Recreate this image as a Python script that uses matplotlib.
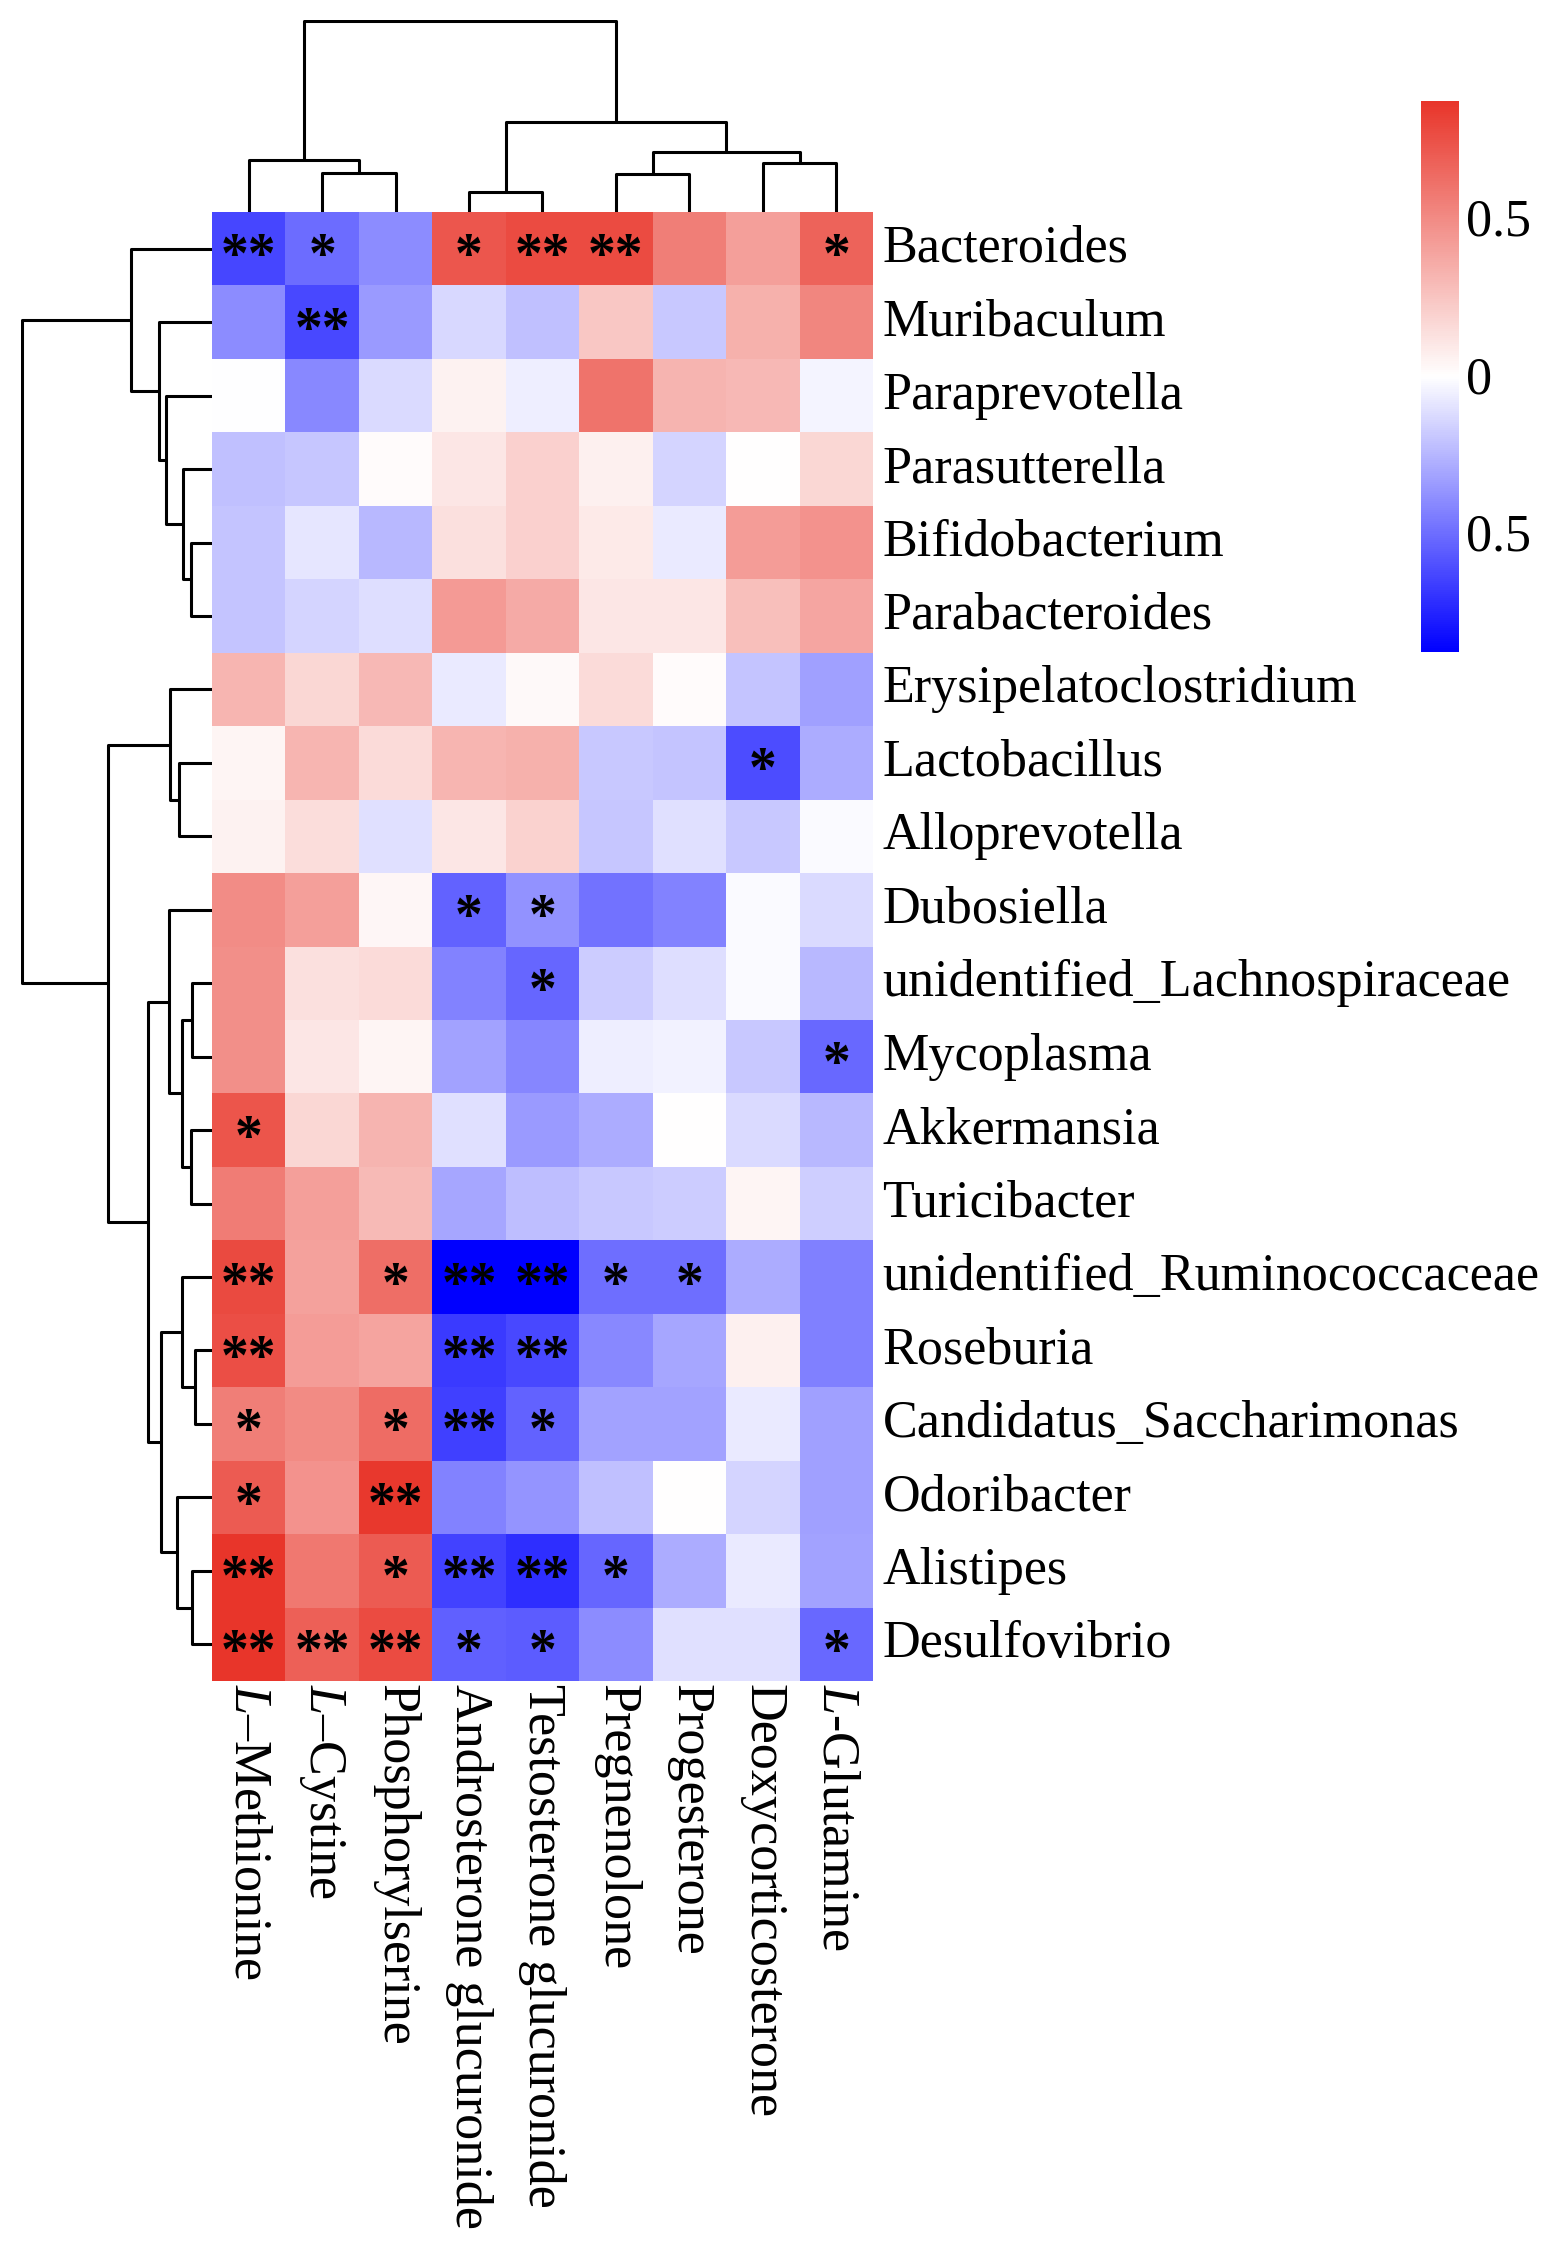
import matplotlib
matplotlib.use("Agg")
import matplotlib.pyplot as plt
import numpy as np
from matplotlib.colors import LinearSegmentedColormap

plt.rcParams['font.family'] = ['Liberation Serif', 'DejaVu Serif']
plt.rcParams['mathtext.fontset'] = 'custom'
plt.rcParams['mathtext.rm'] = 'Liberation Serif'
plt.rcParams['mathtext.it'] = 'Liberation Serif:italic'

genera = ['Bacteroides', 'Muribaculum', 'Paraprevotella', 'Parasutterella',
          'Bifidobacterium', 'Parabacteroides', 'Erysipelatoclostridium',
          'Lactobacillus', 'Alloprevotella', 'Dubosiella',
          'unidentified_Lachnospiraceae', 'Mycoplasma', 'Akkermansia',
          'Turicibacter', 'unidentified_Ruminococcaceae', 'Roseburia',
          'Candidatus_Saccharimonas', 'Odoribacter', 'Alistipes', 'Desulfovibrio']

metabolites = ['$\\it{L}$\u2013Methionine', '$\\it{L}$\u2013Cystine', 'Phosphorylserine',
               'Androsterone glucuronide', 'Testosterone glucuronide', 'Pregnenolone',
               'Progesterone', 'Deoxycorticosterone', '$\\it{L}$-Glutamine']

# correlation values (rows = genera, cols = metabolites)
corr = np.array([
    [-0.64, -0.51, -0.40,  0.72,  0.77,  0.77,  0.55,  0.41,  0.67],
    [-0.40, -0.63, -0.35, -0.14, -0.22,  0.24, -0.19,  0.33,  0.52],
    [-0.01, -0.41, -0.13,  0.05, -0.06,  0.60,  0.32,  0.30, -0.04],
    [-0.22, -0.20,  0.01,  0.10,  0.20,  0.06, -0.15,  0.00,  0.17],
    [-0.21, -0.09, -0.25,  0.13,  0.20,  0.09, -0.08,  0.42,  0.46],
    [-0.21, -0.15, -0.12,  0.43,  0.36,  0.10,  0.10,  0.27,  0.38],
    [ 0.31,  0.17,  0.30, -0.08,  0.02,  0.15,  0.01, -0.21, -0.33],
    [ 0.04,  0.31,  0.15,  0.31,  0.33, -0.19, -0.21, -0.62, -0.29],
    [ 0.05,  0.14, -0.11,  0.10,  0.19, -0.20, -0.11, -0.19, -0.02],
    [ 0.49,  0.41,  0.03, -0.54, -0.38, -0.49, -0.43, -0.02, -0.13],
    [ 0.48,  0.13,  0.15, -0.43, -0.53, -0.18, -0.12, -0.02, -0.25],
    [ 0.48,  0.10,  0.04, -0.32, -0.42, -0.06, -0.05, -0.19, -0.52],
    [ 0.73,  0.17,  0.32, -0.11, -0.35, -0.29,  0.00, -0.13, -0.25],
    [ 0.56,  0.41,  0.29, -0.31, -0.23, -0.19, -0.18,  0.04, -0.17],
    [ 0.78,  0.40,  0.62, -0.88, -0.88, -0.50, -0.50, -0.29, -0.44],
    [ 0.76,  0.42,  0.39, -0.68, -0.63, -0.41, -0.31,  0.06, -0.44],
    [ 0.55,  0.50,  0.63, -0.66, -0.54, -0.32, -0.32, -0.08, -0.33],
    [ 0.70,  0.46,  0.85, -0.43, -0.37, -0.22,  0.00, -0.15, -0.33],
    [ 0.87,  0.58,  0.70, -0.65, -0.72, -0.53, -0.29, -0.08, -0.32],
    [ 0.87,  0.68,  0.77, -0.55, -0.56, -0.40, -0.11, -0.11, -0.52],
])

# significance marks
signif = [
    ['**', '*', '', '*', '**', '**', '', '', '*'],
    ['', '**', '', '', '', '', '', '', ''],
    ['', '', '', '', '', '', '', '', ''],
    ['', '', '', '', '', '', '', '', ''],
    ['', '', '', '', '', '', '', '', ''],
    ['', '', '', '', '', '', '', '', ''],
    ['', '', '', '', '', '', '', '', ''],
    ['', '', '', '', '', '', '', '*', ''],
    ['', '', '', '', '', '', '', '', ''],
    ['', '', '', '*', '*', '', '', '', ''],
    ['', '', '', '', '*', '', '', '', ''],
    ['', '', '', '', '', '', '', '', '*'],
    ['*', '', '', '', '', '', '', '', ''],
    ['', '', '', '', '', '', '', '', ''],
    ['**', '', '*', '**', '**', '*', '*', '', ''],
    ['**', '', '', '**', '**', '', '', '', ''],
    ['*', '', '*', '**', '*', '', '', '', ''],
    ['*', '', '**', '', '', '', '', '', ''],
    ['**', '', '*', '**', '**', '*', '', '', ''],
    ['**', '**', '**', '*', '*', '', '', '', '*'],
]

# dendrogram trees: (merge height, left, right), leaves are indices
row_tree = (190,
            (81, 0, (53, 1, (46, 2, (29, 3, (21, 4, 5))))),
            (104,
             (42, 6, (33, 7, 8)),
             (64,
              (43, 9, (30, (20, 10, 11), (21, 12, 13))),
              (51, (30, 14, (17, 15, 16)), (35, 17, (20, 18, 19))))))
col_tree = (192,
            (52, 0, (39, 1, 2)),
            (90, (20, 3, 4), (60, (38, 5, 6), (49, 7, 8))))

cmap = LinearSegmentedColormap.from_list('bwr2', ['#0000FF', '#FFFFFF', '#E8352A'])
vmin, vmax = -0.88, 0.87

W, H = 1563, 2249
fig = plt.figure(figsize=(W / 100, H / 100), dpi=100)

hx0, hx1 = 212, 873
hy0, hy1 = 212, 1681
ax = fig.add_axes([hx0 / W, 1 - hy1 / H, (hx1 - hx0) / W, (hy1 - hy0) / H])
nr, nc = corr.shape
mesh = ax.pcolormesh(np.arange(nc + 1), np.arange(nr + 1), corr, cmap=cmap,
                     vmin=vmin, vmax=vmax)
ax.set_xlim(0, nc)
ax.set_ylim(nr, 0)
ax.axis('off')

for i in range(nr):
    for j in range(nc):
        if signif[i][j]:
            ax.text(j + 0.5, i + 0.82, signif[i][j], ha='center', va='baseline',
                    fontsize=40, fontweight='bold', color='black')

for i, g in enumerate(genera):
    ax.text(nc + 0.13, i + 0.5, g, ha='left', va='center', fontsize=37.5)
for j, m in enumerate(metabolites):
    ax.text(j + 0.5, nr + 0.04, m, ha='center', va='top', rotation=270, fontsize=37.5)


def draw_tree(axd, node, orient):
    if not isinstance(node, tuple):
        return node + 0.5, 0
    h, left, right = node
    pl, hl = draw_tree(axd, left, orient)
    pr, hr = draw_tree(axd, right, orient)
    ps = [pl, pl, pr, pr]
    hs = [hl, h, h, hr]
    if orient == 'top':
        axd.plot(ps, hs, color='black', lw=2.2, solid_capstyle='butt')
    else:
        axd.plot(hs, ps, color='black', lw=2.2, solid_capstyle='butt')
    return (pl + pr) / 2, h


axt = fig.add_axes([hx0 / W, 1 - hy0 / H, (hx1 - hx0) / W, 192 / H])
draw_tree(axt, col_tree, 'top')
axt.set_xlim(0, nc)
axt.set_ylim(0, 193)
axt.axis('off')

axl = fig.add_axes([(hx0 - 191) / W, 1 - hy1 / H, 191 / W, (hy1 - hy0) / H])
draw_tree(axl, row_tree, 'left')
axl.set_xlim(191, 0)
axl.set_ylim(nr, 0)
axl.axis('off')

cax = fig.add_axes([1421 / W, 1 - 652 / H, 38 / W, 551 / H])
cb = fig.colorbar(mesh, cax=cax)
cb.outline.set_visible(False)
cb.set_ticks([0.5, 0, -0.5])
cb.set_ticklabels(['0.5', '0', '0.5'])
cb.ax.tick_params(length=0, labelsize=37.5, pad=5)

fig.savefig('out.png', dpi=100)
